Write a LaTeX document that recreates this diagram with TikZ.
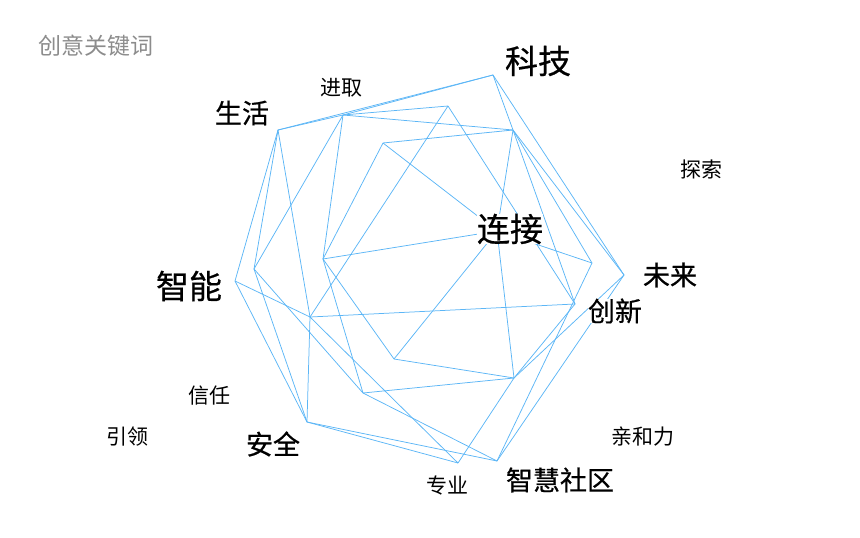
\documentclass[tikz,border=0pt]{standalone}
\usepackage{fontspec}
\newfontfamily\cjk{Noto Sans CJK SC}
\newfontfamily\cjkheavy{Noto Sans CJK SC}[FakeBold=0.6]
\definecolor{meshblue}{RGB}{92,182,246}
\definecolor{titlegray}{RGB}{140,140,140}
\begin{document}
\begin{tikzpicture}[x=1pt,y=-1pt,
		mesh/.style={draw=meshblue,line width=0.75pt},
		bigword/.style={font=\cjkheavy\fontsize{33}{33}\selectfont,fill=white,inner sep=0pt},
		midword/.style={font=\cjkheavy\fontsize{27}{27}\selectfont,fill=white,inner sep=0pt},
		smallword/.style={font=\cjk\fontsize{21}{21}\selectfont,inner sep=0pt}]
			\useasboundingbox (0,0) rectangle (860,538);
			% mesh points
			\coordinate (A) at (493,75);
			\coordinate (B) at (278,130);
			\coordinate (C) at (343,115);
			\coordinate (D) at (448,106);
			\coordinate (E) at (513,130);
			\coordinate (F) at (383,143);
			\coordinate (G) at (323,259);
			\coordinate (H) at (254,269);
			\coordinate (I) at (235,281);
			\coordinate (J) at (592,263);
			\coordinate (K) at (624,275);
			\coordinate (L) at (575,304);
			\coordinate (M) at (310,317);
			\coordinate (N) at (394,359);
			\coordinate (O) at (514,378);
			\coordinate (P) at (363,393);
			\coordinate (Q) at (307,422);
			\coordinate (R) at (458,463);
			\coordinate (S) at (497,461);
			\coordinate (X) at (497,231);
			% outer ring
			\draw[mesh] (A) -- (K) -- (S) -- (Q) -- (I) -- (B) -- cycle;
			% inner lines
			\draw[mesh] (A) -- (C);
			\draw[mesh] (A) -- (E) -- (L);
			\draw[mesh] (B) -- (C) -- (D);
			\draw[mesh] (C) -- (E);
			\draw[mesh] (F) -- (E);
			\draw[mesh] (B) -- (H);
			\draw[mesh] (B) -- (M);
			\draw[mesh] (C) -- (G);
			\draw[mesh] (C) -- (H);
			\draw[mesh] (F) -- (G);
			\draw[mesh] (F) -- (X);
			\draw[mesh] (D) -- (M);
			\draw[mesh] (D) -- (L);
			\draw[mesh] (G) -- (X);
			\draw[mesh] (G) -- (N);
			\draw[mesh] (G) -- (P);
			\draw[mesh] (H) -- (P);
			\draw[mesh] (H) -- (Q);
			\draw[mesh] (I) -- (M);
			\draw[mesh] (M) -- (L);
			\draw[mesh] (M) -- (Q);
			\draw[mesh] (M) -- (R);
			\draw[mesh] (N) -- (X);
			\draw[mesh] (N) -- (O);
			\draw[mesh] (X) -- (O);
			\draw[mesh] (P) -- (O);
			\draw[mesh] (L) -- (O) -- (R);
			\draw[mesh] (K) -- (O);
			\draw[mesh] (P) -- (S);
			\draw[mesh] (Q) -- (R);
			\draw[mesh] (E) -- (J);
			\draw[mesh] (X) -- (J);
			\draw[mesh] (J) -- (S);
			\draw[mesh] (E) -- (K);
			\draw[mesh] (E) -- (X);
			% words
			\node[font=\cjk\fontsize{23}{23}\selectfont,text=titlegray,inner sep=0pt] (title) at (96,46) {创意关键词};
			\node[bigword] (keji) at (538,61) {科技};
			\node[bigword] (lianjie) at (510,229) {连接};
			\node[bigword] (zhineng) at (189,286) {智能};
			\node[midword] (shenghuo) at (242,113) {生活};
			\node[midword] (weilai) at (670,275) {未来};
			\node[midword] (chuangxin) at (615,311) {创新};
			\node[midword] (anquan) at (273,444) {安全};
			\node[midword] (shequ) at (560,480) {智慧社区};
			\node[smallword] (jinqu) at (341,88) {进取};
			\node[smallword] (tansuo) at (701,169) {探索};
			\node[smallword] (xinren) at (209,396) {信任};
			\node[smallword] (yinling) at (127,437) {引领};
			\node[smallword] (qinheli) at (643,437) {亲和力};
			\node[smallword] (zhuanye) at (447,486) {专业};
		\end{tikzpicture}
\end{document}
